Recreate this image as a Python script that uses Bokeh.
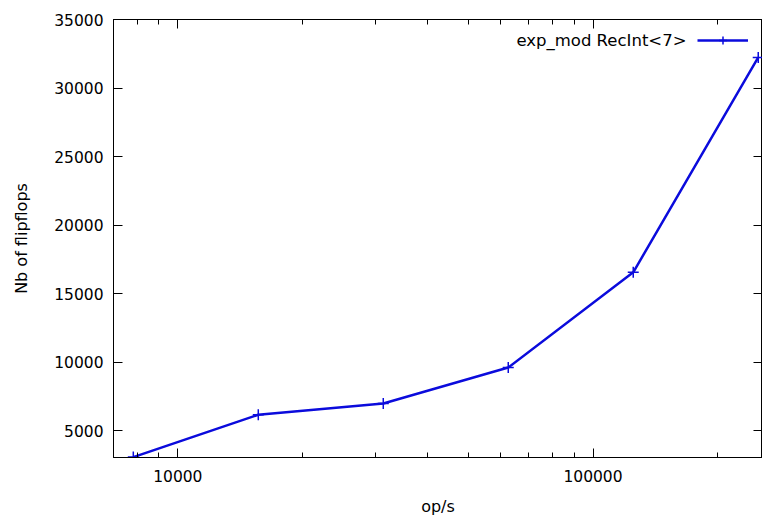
from bokeh.plotting import figure
from bokeh.models import (Range1d, LinearAxis, LogAxis, SingleIntervalTicker, FixedTicker,
                          BasicTickFormatter, Legend, LegendItem, Label)
from bokeh.core.properties import value
from bokeh.embed import file_html
from bokeh.resources import INLINE

ops = [7812.5, 15625, 31250, 62500, 125000, 250000]
flipflops = [3080, 6170, 6990, 9610, 16560, 32230]
x_major_ticks = [10000, 100000]
x_minor_ticks = [7000, 8000, 9000, 20000, 30000, 40000, 50000, 60000, 70000, 80000, 90000, 200000]
series_name = "exp_mod RecInt<7>"
x_label = "op/s"
y_label = "Nb of flipflops"

FONT = "DejaVu Sans"
FS = "15.5px"
FS_LABEL = "16px"
FS_LEGEND = "16.5px"
BLUE = "#0b0bdc"

p = figure(width=762, height=519, x_axis_type="log", output_backend="svg",
           toolbar_location=None, x_range=Range1d(7000, 256000), y_range=Range1d(3050, 35000),
           min_border_left=113, min_border_right=0, min_border_top=19, min_border_bottom=62)
p.grid.visible = False
p.outline_line_color = "black"
p.background_fill_color = "white"
p.border_fill_color = "white"

def style(ax, labels=True):
    ax.axis_line_color = "black"
    ax.axis_line_width = 1
    ax.major_tick_in = 9
    ax.major_tick_out = 0
    ax.minor_tick_in = 5
    ax.minor_tick_out = 0
    ax.major_tick_line_color = "black"
    ax.minor_tick_line_color = "black"
    ax.major_label_text_font = FONT
    ax.major_label_text_font_size = FS
    ax.major_label_text_color = "black" if labels else None
    ax.axis_label_text_font = FONT
    ax.axis_label_text_font_size = FS_LABEL
    ax.axis_label_text_font_style = "normal"
    ax.axis_label_text_color = "black"

xt = FixedTicker(ticks=x_major_ticks, minor_ticks=x_minor_ticks)
yt = SingleIntervalTicker(interval=5000, num_minor_ticks=0)

xa = p.xaxis[0]
xa.ticker = xt
xa.formatter = BasicTickFormatter(use_scientific=False)
style(xa)
xa.major_label_standoff = 12
xa.axis_label = x_label
xa.axis_label_standoff = 12

ya = p.yaxis[0]
ya.ticker = yt
style(ya)
ya.minor_tick_line_color = None
ya.major_label_standoff = 10
ya.axis_label = y_label
ya.axis_label_standoff = 20

top = LogAxis(ticker=xt)
style(top, labels=False)
top.major_label_text_font_size = "0px"
top.major_label_standoff = 0
top.axis_label_standoff = 0
p.add_layout(top, "above")

right = LinearAxis(ticker=yt)
style(right, labels=False)
right.minor_tick_line_color = None
right.major_label_text_font_size = "0px"
right.major_label_standoff = 0
right.axis_label_standoff = 0
p.add_layout(right, "right")

ln = p.line(ops, flipflops, line_color=BLUE, line_width=2.5)
sc = p.scatter(ops, flipflops, marker="cross", size=11, line_color=BLUE, line_width=1.5)

legend = Legend(items=[LegendItem(label=value(""), renderers=[ln, sc])],
                location=(584, 407), margin=0, padding=0, spacing=0, glyph_width=51, glyph_height=20,
                label_standoff=0, label_width=0, label_height=20, background_fill_alpha=0,
                border_line_color=None, label_text_font_size="1px")
p.add_layout(legend, "center")

p.add_layout(Label(x=573, y=417, x_units="screen", y_units="screen", text=series_name,
                   text_align="right", text_baseline="middle", text_font=FONT,
                   text_font_size=FS_LEGEND, text_color="black"))

open("out.html", "w").write(file_html(p, INLINE))
